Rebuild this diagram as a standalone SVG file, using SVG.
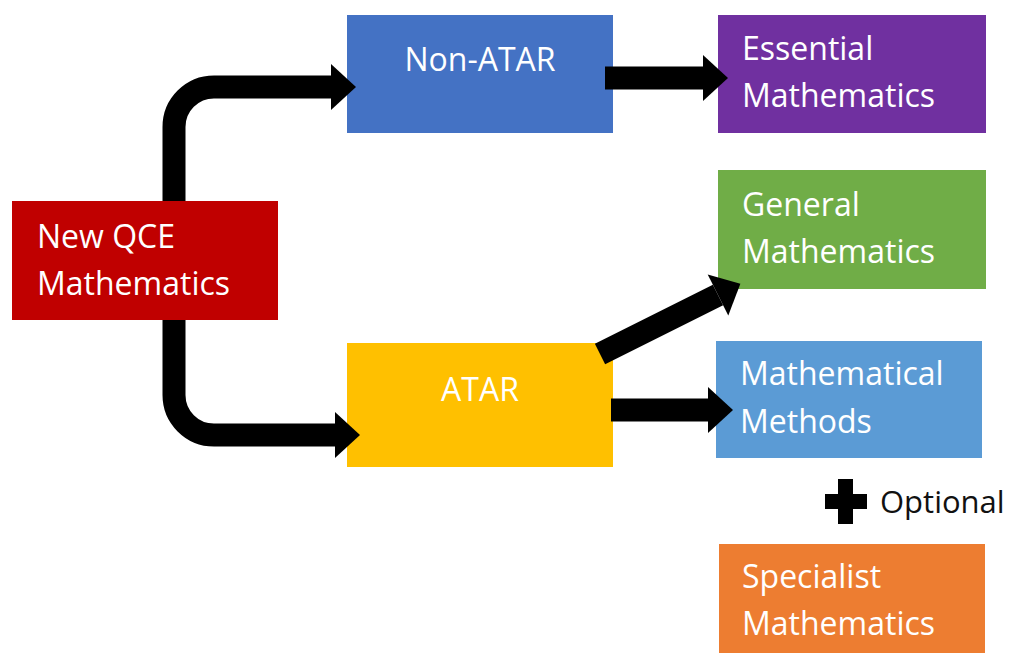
<svg xmlns="http://www.w3.org/2000/svg" width="1016" height="653" viewBox="0 0 1016 653">
<style>
.lbl{font-family:"Open Sans","Noto Sans",sans-serif;font-size:32px;fill:#ffffff}
.mid{text-anchor:middle}
.conn{fill:none;stroke:#000;stroke-width:23;marker-end:url(#head)}
</style>
<defs>
<marker id="head" markerUnits="userSpaceOnUse" markerWidth="26" markerHeight="48" refX="0" refY="23" orient="auto" overflow="visible">
<path d="M0,0 L25,23 L0,46 Z" fill="#000"/>
</marker>
</defs>
<rect width="1016" height="653" fill="#fff"/>
<g id="new-qce">
<rect x="12" y="201" width="266" height="119" fill="#C00000"/>
<text class="lbl" x="37" y="248">New QCE</text>
<text class="lbl" x="37" y="295">Mathematics</text>
</g>
<g id="non-atar">
<rect x="347" y="15" width="266" height="118" fill="#4472C4"/>
<text class="lbl mid" x="480" y="71">Non-ATAR</text>
</g>
<g id="atar">
<rect x="347" y="343" width="266" height="124" fill="#FFC000"/>
<text class="lbl mid" x="480" y="401" fill="#FFF7E0">ATAR</text>
</g>
<g id="essential">
<rect x="718" y="15" width="268" height="118" fill="#7030A0"/>
<text class="lbl" x="742" y="60">Essential</text>
<text class="lbl" x="742" y="107">Mathematics</text>
</g>
<g id="general">
<rect x="718" y="170" width="268" height="119" fill="#70AD47"/>
<text class="lbl" x="742" y="216">General</text>
<text class="lbl" x="742" y="263">Mathematics</text>
</g>
<g id="methods">
<rect x="716" y="341" width="266" height="117" fill="#5B9BD5"/>
<text class="lbl" x="740" y="385">Mathematical</text>
<text class="lbl" x="740" y="433">Methods</text>
</g>
<g id="optional">
<path d="M838,479 H853 V494 H867 V509 H853 V524 H838 V509 H825 V494 H838 Z" fill="#000"/>
<text x="880" y="513" style="font-family:'Open Sans','Noto Sans',sans-serif;font-size:31px;fill:#111">Optional</text>
</g>
<g id="specialist">
<rect x="719" y="544" width="266" height="115" fill="#ED7D31"/>
<text class="lbl" x="742" y="588">Specialist</text>
<text class="lbl" x="742" y="635">Mathematics</text>
</g>
<g id="connectors">
<path class="conn" d="M174,201 V127 A40,40 0 0 1 214,87 H331"/>
<path class="conn" d="M174,320 V395 A40,40 0 0 0 214,435 H335"/>
<path class="conn" d="M605,78 H703"/>
<path class="conn" d="M611,410 H708"/>
<path class="conn" d="M600,354 L718,295"/>
</g>
</svg>
